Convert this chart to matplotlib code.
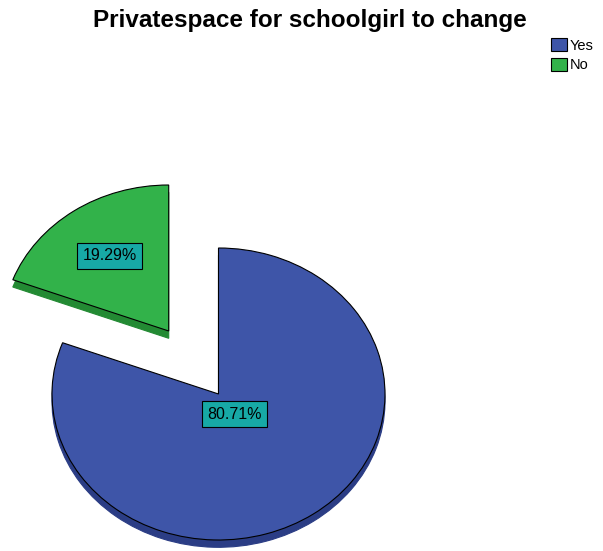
import numpy as np
import matplotlib
matplotlib.use("Agg")
import matplotlib.pyplot as plt
from matplotlib.patches import Patch

# answers and their share of respondents (%)
answers = ["Yes", "No"]
shares = [80.71, 19.29]

top_colors = ["#3e55a8", "#32b24a"]
side_colors = ["#2b3d85", "#238a33"]
label_color = "#17a9a6"

explode = [0, 0.525]
depth = 0.05             # thickness of the pie, in radius units
label_radius = [0.17, 0.625]

plt.rcParams['font.family'] = ['Liberation Sans', 'DejaVu Sans']

fig = plt.figure(figsize=(6.03, 5.51), dpi=100)
ax = fig.add_axes([0, 0, 1, 1])

# side of the pie: same wedges moved down, darker
side, _ = ax.pie(shares, explode=explode, colors=side_colors, startangle=90,
                 counterclock=False, center=(0, -depth),
                 wedgeprops=dict(linewidth=0.8))
for w, c in zip(side, side_colors):
    w.set_edgecolor(c)

# top face
wedges, _ = ax.pie(shares, explode=explode, colors=top_colors, startangle=90,
                   counterclock=False,
                   wedgeprops=dict(edgecolor="black", linewidth=0.8))

for w, s, r in zip(wedges, shares, label_radius):
    mid = np.deg2rad((w.theta1 + w.theta2) / 2)
    cx, cy = w.center
    ax.text(cx + r * np.cos(mid), cy + r * np.sin(mid), "%.2f%%" % s,
            ha="center", va="center", fontsize=11.5, color="black",
            bbox=dict(boxstyle="square,pad=0.35", facecolor=label_color,
                      edgecolor="black", linewidth=0.8))

# squash the circle into an ellipse (166.5 px wide, 146 px tall radius)
ax.set_aspect("auto")
ax.set_xlim(-218.5 / 166.5, (603 - 218.5) / 166.5)
ax.set_ylim(-(551 - 394) / 146, 394 / 146)
ax.set_axis_off()

fig.text(310 / 603, 1 - 20 / 551, "Privatespace for schoolgirl to change",
         ha="center", va="center", fontsize=17.5, fontweight="bold")

handles = [Patch(facecolor=c, edgecolor="black", linewidth=0.8) for c in top_colors]
fig.legend(handles, answers, loc="upper left", bbox_to_anchor=(551 / 603, 1 - 38 / 551),
           frameon=False, fontsize=10.5, handlelength=1.1, handleheight=1.0,
           handletextpad=0.2, labelspacing=0.35, borderpad=0, borderaxespad=0)

plt.savefig("out.png", dpi=100)
